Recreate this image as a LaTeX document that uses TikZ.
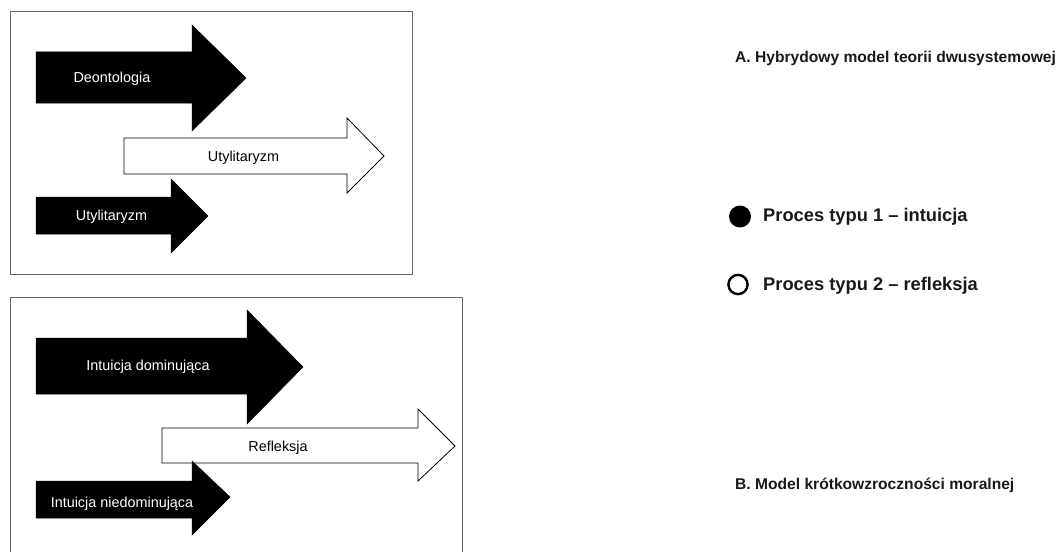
\documentclass[tikz,border=0pt]{standalone}
\usepackage{fontspec}
\setmainfont{Liberation Sans}
\begin{document}
\begin{tikzpicture}[x=1pt,y=-1pt,
  frame/.style={draw=black!60,line width=1pt},
  blackarrow/.style={fill=black,draw=black,line width=0.5pt},
  whitearrow/.style={fill=white,draw=black,line width=0.8pt},
  inlabel/.style={font=\fontsize{14.4}{16}\selectfont,text=white,anchor=base,inner sep=0pt},
  outlabel/.style={font=\fontsize{14.4}{16}\selectfont,text=black,anchor=base,inner sep=0pt},
  title/.style={font=\bfseries\fontsize{15.6}{18}\selectfont,text=black!90,anchor=base west,inner sep=0pt},
  legend/.style={font=\bfseries\fontsize{18.3}{20}\selectfont,text=black!90,anchor=base west,inner sep=0pt}]
\useasboundingbox (0,0) rectangle (1059,551);
% box A
\draw[frame] (10,12) rectangle (412,274);
\draw[blackarrow] (36,52) -- (192,52) -- (192,25) -- (246,78) -- (192,131) -- (192,103) -- (36,103) -- cycle;
\draw[whitearrow] (124,138) -- (347,138) -- (347,118) -- (384,156) -- (347,193) -- (347,174) -- (124,174) -- cycle;
\draw[blackarrow] (36,197) -- (171,197) -- (171,179) -- (208,216) -- (171,253) -- (171,234) -- (36,234) -- cycle;
\node[inlabel] (deon) at (112,82) {Deontologia};
\node[outlabel] (util1) at (243.5,161) {Utylitaryzm};
\node[inlabel] (util2) at (111.5,220) {Utylitaryzm};
% box B
\draw[frame] (10,560) -- (10,297) -- (462,297) -- (462,560);
\draw[blackarrow] (36,338) -- (247,338) -- (247,310) -- (303,367) -- (247,424) -- (247,394) -- (36,394) -- cycle;
\draw[whitearrow] (162,428) -- (418,428) -- (418,409) -- (455,446) -- (418,481) -- (418,463) -- (162,463) -- cycle;
\draw[blackarrow] (36,481) -- (192,481) -- (192,461) -- (230,497) -- (192,535) -- (192,518) -- (36,518) -- cycle;
\node[inlabel] (intdom) at (148,370) {Intuicja dominująca};
\node[outlabel] (refl) at (278,451) {Refleksja};
\node[inlabel] (intnd) at (122,507) {Intuicja niedominująca};
% right side
\node[title] (tA) at (735,63) {A. Hybrydowy model teorii dwusystemowej};
\node[title] (tB) at (735,489) {B. Model krótkowzroczności moralnej};
\fill[black] (740,216.5) circle (11);
\draw[black,line width=2.4pt] (738,284.5) circle (9.6);
\node[legend] (l1) at (763,221) {Proces typu 1 – intuicja};
\node[legend] (l2) at (763,290.5) {Proces typu 2 – refleksja};
\end{tikzpicture}
\end{document}
